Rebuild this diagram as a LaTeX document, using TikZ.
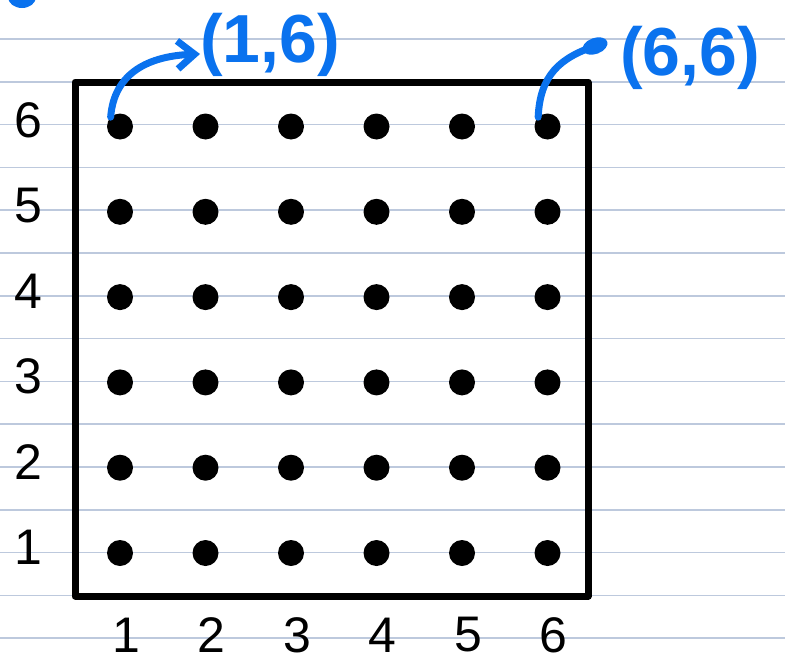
\documentclass[tikz,border=0pt]{standalone}
\usepackage{fontspec}
\setmainfont{Liberation Sans}
\usetikzlibrary{arrows.meta,positioning}
\definecolor{ink}{HTML}{0A72EE}
\definecolor{ruling}{HTML}{BDC9DD}

\begin{document}
\begin{tikzpicture}[x=1pt,y=-1pt,
  dot/.style={circle,fill=black,inner sep=0pt,minimum size=26pt},
  axislabel/.style={font=\fontsize{50}{50}\selectfont,inner sep=0pt},
  note/.style={text=ink,font=\fontsize{68}{68}\selectfont\bfseries,inner sep=0pt,anchor=west},
  pen/.style={ink,line width=7pt,line cap=round,line join=round}]
\useasboundingbox (0,0) rectangle (785,664);
% notebook ruling
\foreach \k in {0,...,14} \draw[ruling,line width=1.5pt] (0,{39+42.8*\k}) -- (785,{39+42.8*\k});
% frame
\draw[line width=7pt,line join=round] (75,82) rectangle (588,596);
% grid of points
\foreach \i in {1,...,6}
  \foreach \j in {1,...,6}
    \node[dot] (d-\i-\j) at ({120+85.5*(\i-1)},{553-85.3*(\j-1)}) {};
% axis numbers
\foreach \j in {1,...,6} \node[axislabel] (row\j) at (28,{547-85.3*(\j-1)}) {\j};
\foreach \i in {1,...,6} \node[axislabel] (col\i) at ({126+85.5*(\i-1)},635) {\i};
% blue notes
\node[note] (p16) at (200,45) {(1,6)};
\node[note] (p66) at (620,58) {(6,6)};
\draw[pen,-{Straight Barb[length=17pt,width=28pt]}] (d-1-6.north west) .. controls (114,72) and (150,56) .. ([yshift=-9pt]p16.west);
\coordinate (blob) at (595,46);
\draw[pen] (d-6-6.north west) .. controls (540,75) and (560,58) .. (blob);
\fill[ink,rotate around={20:(blob)}] (blob) ellipse (13pt and 8pt);
\fill[ink] (22,-3) ellipse (14pt and 11pt);
\end{tikzpicture}
\end{document}
